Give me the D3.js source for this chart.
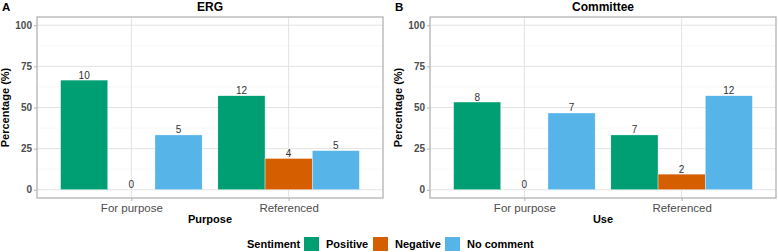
<!DOCTYPE html>
<html>
<head>
<meta charset="utf-8">
<script src="https://cdn.jsdelivr.net/npm/d3@7"></script>
<style>
  body { margin: 0; background: #fff; }
  svg { font-family: "Liberation Sans", Arial, sans-serif; display: block; }
</style>
</head>
<body>
<div id="chart-area"></div>
<script>
const width = 778;
const height = 252;

// data
const sentiments = ['Positive', 'Negative', 'No comment'];
const categories = ['For purpose', 'Referenced'];
const ergCounts = { 'For purpose': [10, 0, 5], 'Referenced': [12, 4, 5] };
const committeeCounts = { 'For purpose': [8, 0, 7], 'Referenced': [7, 2, 12] };
const yTicks = [0, 25, 50, 75, 100];
const yMinor = [12.5, 37.5, 62.5, 87.5];

const colors = ['#009E73', '#D55E00', '#56B4E9'];

const panels = [
    { tag: 'A', title: 'ERG', xTitle: 'Purpose', counts: ergCounts, left: 37, right: 383 },
    { tag: 'B', title: 'Committee', xTitle: 'Use', counts: committeeCounts, left: 430, right: 776 }
];

const panelTop = 17, panelBottom = 198;

let svg = d3.select('#chart-area').append('svg')
    .attr('width', width)
    .attr('height', height);

let color = d3.scaleOrdinal().domain(sentiments).range(colors);

let y = d3.scaleLinear().domain([-5, 105]).range([panelBottom, panelTop]);

panels.forEach((p) => {
    let data = [];
    categories.forEach((c) => {
        let counts = p.counts[c];
        let total = d3.sum(counts);
        counts.forEach((n, i) => {
            data.push({ cat: c, sent: sentiments[i], n: n, pct: n / total * 100 });
        });
    });

    let x = d3.scalePoint().domain(categories).range([p.left, p.right]).padding(0.6);
    let dodge = d3.scaleBand().domain(sentiments)
        .range([-0.45 * x.step(), 0.45 * x.step()]);

    let g = svg.append('g');

    // grid
    g.selectAll('.minor').data(yMinor).enter().append('line')
        .attr('x1', p.left).attr('x2', p.right)
        .attr('y1', (d) => y(d)).attr('y2', (d) => y(d))
        .attr('stroke', '#f3f3f3').attr('stroke-width', 0.6);
    g.selectAll('.major').data(yTicks).enter().append('line')
        .attr('x1', p.left).attr('x2', p.right)
        .attr('y1', (d) => y(d)).attr('y2', (d) => y(d))
        .attr('stroke', '#e3e3e3').attr('stroke-width', 1);
    g.selectAll('.vgrid').data(categories).enter().append('line')
        .attr('x1', (d) => x(d)).attr('x2', (d) => x(d))
        .attr('y1', panelTop).attr('y2', panelBottom)
        .attr('stroke', '#e3e3e3').attr('stroke-width', 1);

    // bars
    g.selectAll('rect.bar').data(data).enter().append('rect')
        .attr('class', 'bar')
        .attr('x', (d) => x(d.cat) + dodge(d.sent))
        .attr('y', (d) => y(d.pct))
        .attr('width', dodge.bandwidth())
        .attr('height', (d) => y(0) - y(d.pct))
        .attr('fill', (d) => color(d.sent))
        .attr('stroke', '#ffffff')
        .attr('stroke-width', 0.4);

    g.selectAll('text.lab').data(data).enter().append('text')
        .attr('x', (d) => x(d.cat) + dodge(d.sent) + dodge.bandwidth() / 2)
        .attr('y', (d) => y(d.pct) - 1.5)
        .attr('text-anchor', 'middle')
        .attr('font-size', '10px')
        .attr('fill', '#333')
        .text((d) => d.n);

    // border
    g.append('rect')
        .attr('x', p.left).attr('y', panelTop)
        .attr('width', p.right - p.left).attr('height', panelBottom - panelTop)
        .attr('fill', 'none').attr('stroke', '#b3b3b3').attr('stroke-width', 1.3);

    // axes
    let leftAxis = d3.axisLeft(y).tickValues(yTicks).tickSize(3).tickPadding(2);
    let ga = g.append('g').attr('transform', `translate(${p.left}, 0)`).call(leftAxis);
    ga.select('.domain').remove();
    ga.selectAll('line').attr('stroke', '#b3b3b3');
    ga.selectAll('text').attr('font-size', '10px').attr('font-weight', 'bold')
        .attr('fill', '#4d4d4d').attr('font-family', null);

    let bottomAxis = d3.axisBottom(x).tickSize(3).tickPadding(3);
    let gb = g.append('g').attr('transform', `translate(0, ${panelBottom})`).call(bottomAxis);
    gb.select('.domain').remove();
    gb.selectAll('line').attr('stroke', '#b3b3b3');
    gb.selectAll('text').attr('font-size', '11.5px')
        .attr('fill', '#4d4d4d').attr('font-family', null);

    // titles
    g.append('text')
        .attr('x', (p.left + p.right) / 2).attr('y', 11)
        .attr('text-anchor', 'middle')
        .attr('font-size', '12px').attr('font-weight', 'bold')
        .text(p.title);
    g.append('text')
        .attr('x', p.left - 35).attr('y', 11)
        .attr('font-size', '11.5px').attr('font-weight', 'bold')
        .text(p.tag);
    g.append('text')
        .attr('x', (p.left + p.right) / 2).attr('y', 223)
        .attr('text-anchor', 'middle')
        .attr('font-size', '11px').attr('font-weight', 'bold')
        .text(p.xTitle);
    g.append('text')
        .attr('transform', `translate(${p.left - 28}, ${(panelTop + panelBottom) / 2}) rotate(-90)`)
        .attr('text-anchor', 'middle')
        .attr('font-size', '11px').attr('font-weight', 'bold')
        .text('Percentage (%)');
});

// legend
let legend = svg.append('g');
legend.append('text')
    .attr('x', 247).attr('y', 248)
    .attr('font-size', '11px').attr('font-weight', 'bold')
    .text('Sentiment');

const legendX = [304, 373, 445];
sentiments.forEach((s, i) => {
    legend.append('rect')
        .attr('x', legendX[i]).attr('y', 237)
        .attr('width', 15).attr('height', 14)
        .attr('fill', color(s));
    legend.append('text')
        .attr('x', legendX[i] + 22).attr('y', 248)
        .attr('font-size', '11px').attr('font-weight', 'bold')
        .text(s);
});
</script>
</body>
</html>
